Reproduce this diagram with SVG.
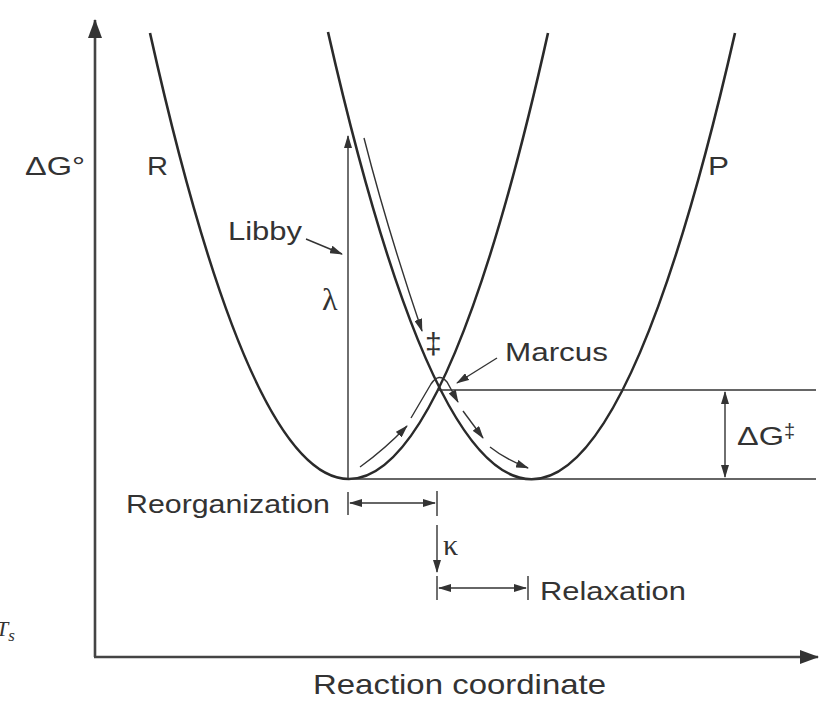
<svg xmlns="http://www.w3.org/2000/svg" width="821" height="701" viewBox="0 0 821 701">
<style>
.lbl{font-family:"Liberation Sans",Arial,sans-serif;font-size:25px;fill:#333}
.curve{fill:none;stroke:#2a2a2a;stroke-width:2.6}
.axis{fill:none;stroke:#444;stroke-width:2.6}
.thin{fill:none;stroke:#333;stroke-width:1.4}
</style>
<defs>
<marker id="ah" markerUnits="userSpaceOnUse" markerWidth="14" markerHeight="8" refX="12" refY="4" orient="auto-start-reverse">
<path d="M0,0 L13,4 L0,8 z" fill="#333"/>
</marker>
<marker id="axh" markerUnits="userSpaceOnUse" markerWidth="20" markerHeight="14" refX="18" refY="7" orient="auto">
<path d="M0,0 L19,7 L0,14 z" fill="#333"/>
</marker>
</defs>
<rect width="821" height="701" fill="#fff"/>
<g id="axes">
<path class="axis" d="M95,657 V20" marker-end="url(#axh)"/>
<path class="axis" d="M94,657 H818" marker-end="url(#axh)"/>
</g>
<g id="curve-R"><path class="curve" d="M150,33 Q349,925 548,33"/></g>
<g id="curve-P"><path class="curve" d="M328,32 Q531.5,926 735,33"/></g>
<g id="connectors">
<path class="thin" d="M437,390 H816"/>
<path class="thin" d="M349,479 H816"/>
<path class="thin" d="M725,392 V477" marker-start="url(#ah)" marker-end="url(#ah)"/>
<path class="thin" d="M348,479 V136" marker-end="url(#ah)"/>
<path class="thin" d="M364,138 Q387,228 422,331" marker-end="url(#ah)"/>
<path class="thin" d="M306,239 L342,254" marker-end="url(#ah)"/>
<path class="thin" d="M497,358 L457,383" marker-end="url(#ah)"/>
<path class="thin" d="M360,467 Q385,449 407,426" marker-end="url(#ah)"/>
<path class="thin" d="M411,418 L431,384 Q439,372 447,382 L458,402" marker-end="url(#ah)"/>
<path class="thin" d="M463,411 L483,438" marker-end="url(#ah)"/>
<path class="thin" d="M490,447 Q505,459 528,468" marker-end="url(#ah)"/>
<path class="thin" d="M348,492 V515 M437,491 V516"/>
<path class="thin" d="M350,503 H435" marker-start="url(#ah)" marker-end="url(#ah)"/>
<path class="thin" d="M437,525 V572" marker-end="url(#ah)"/>
<path class="thin" d="M437,576 V600 M528,576 V600"/>
<path class="thin" d="M439,588 H526" marker-start="url(#ah)" marker-end="url(#ah)"/>
</g>
<g id="labels">
<text class="lbl" x="25" y="175" textLength="60" lengthAdjust="spacingAndGlyphs">ΔG°</text>
<text class="lbl" x="147" y="175" textLength="21" lengthAdjust="spacingAndGlyphs">R</text>
<text class="lbl" x="708" y="175" textLength="21" lengthAdjust="spacingAndGlyphs">P</text>
<text class="lbl" x="228" y="240" textLength="74" lengthAdjust="spacingAndGlyphs">Libby</text>
<text x="322" y="310" style="font-family:'Liberation Serif',serif;font-size:32px;fill:#333">λ</text>
<text x="425" y="354" style="font-family:'Liberation Sans',sans-serif;font-size:30px;fill:#333">‡</text>
<text class="lbl" x="505" y="361" textLength="103" lengthAdjust="spacingAndGlyphs">Marcus</text>
<text class="lbl" x="737" y="445" textLength="47" lengthAdjust="spacingAndGlyphs">ΔG</text>
<text x="784" y="438" style="font-family:'Liberation Sans',sans-serif;font-size:20px;fill:#333">‡</text>
<text class="lbl" x="126" y="513" textLength="204" lengthAdjust="spacingAndGlyphs">Reorganization</text>
<text x="443" y="555" style="font-family:'Liberation Serif',serif;font-size:30px;fill:#333">κ</text>
<text class="lbl" x="540" y="600" textLength="146" lengthAdjust="spacingAndGlyphs">Relaxation</text>
<text class="lbl" x="313" y="694" textLength="293" lengthAdjust="spacingAndGlyphs" style="font-size:28px">Reaction coordinate</text>
<text x="-4" y="636" style="font-family:'Liberation Serif',serif;font-size:22px;font-style:italic;fill:#333">T<tspan dy="5" font-size="17">s</tspan></text>
</g>
</svg>
